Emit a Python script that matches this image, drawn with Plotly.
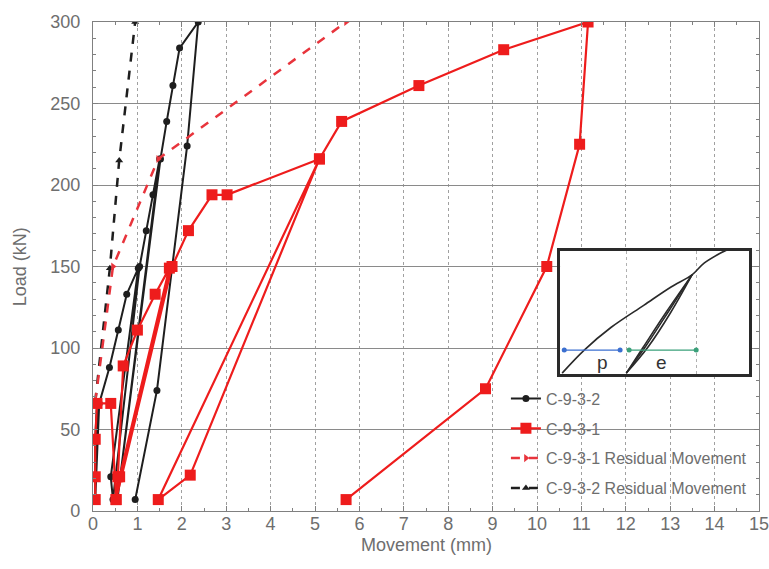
import plotly.graph_objects as go

# ---- data ----
c931_x = [0.05, 0.05, 0.05, 0.09, 0.40, 0.52, 0.56, 0.68, 1.00, 1.40, 1.72, 0.60, 0.52,
          1.78, 2.15, 2.68, 3.02, 5.10, 2.19, 1.47, 5.10, 5.60, 7.34, 9.25, 11.15, 10.96,
          10.22, 8.84, 5.70]
c931_y = [7, 21, 44, 66, 66, 7, 21, 89, 111, 133, 149, 21, 7,
          150, 172, 194, 194, 216, 22, 7, 216, 239, 261, 283, 300, 225,
          150, 75, 7]

c932_x = [0.05, 0.05, 0.05, 0.09, 0.05, 0.14, 0.37, 0.57, 0.76, 1.02, 0.40, 0.45,
          1.05, 1.20, 1.35, 1.50, 0.55, 1.52, 1.66, 1.80, 1.95, 2.37, 2.12, 1.44, 0.95]
c932_y = [7, 21, 44, 66, 7, 66, 88, 111, 133, 149, 21, 7,
          150, 172, 194, 216, 7, 216, 239, 261, 284, 300, 224, 74, 7]

res931_x = [0.05, 0.45, 1.47, 5.70]
res931_y = [67, 150, 216, 300]

res932_x = [0.05, 0.38, 0.59, 0.95]
res932_y = [67, 149, 215, 300]

x_ticks = list(range(0, 16))
y_ticks = [0, 50, 100, 150, 200, 250, 300]

# inset schematic (own unit-less axes 0..10)
inset_load_x = [0.1, 1.27, 2.7, 4.44, 5.87, 6.98, 7.62, 8.52, 9.3]
inset_load_y = [0.08, 1.95, 3.8, 5.6, 7.07, 8.05, 9.0, 9.84, 10.4]
inset_unload_x = [6.98, 5.6, 4.4, 3.5]
inset_unload_y = [8.05, 5.0, 2.2, 0.08]
inset_reload_x = [3.5, 4.65, 5.85, 6.98]
inset_reload_y = [0.08, 2.2, 5.0, 8.05]
inset_reload2_x = [3.5, 4.5, 5.7, 6.98]
inset_reload2_y = [0.08, 2.2, 5.0, 8.05]
p_x = [0.21, 3.17]
e_x = [3.65, 7.2]
pe_y = [1.95, 1.95]

FONT = "Liberation Sans, Arial, sans-serif"
GRAY_TXT = "#6e6e6e"
RED = "#ee1c1c"
BLACK = "#1e1e1e"

fig = go.Figure()

fig.add_trace(go.Scatter(
    x=c932_x, y=c932_y, name="C-9-3-2", mode="lines+markers", legendgroup="a",
    line=dict(color=BLACK, width=2), marker=dict(symbol="circle", size=7, color=BLACK),
    legendrank=1))
fig.add_trace(go.Scatter(
    x=res932_x, y=res932_y, name="C-9-3-2 Residual Movement", mode="lines+markers",
    legendgroup="d",
    line=dict(color=BLACK, width=2.5, dash="dash"),
    marker=dict(symbol="triangle-up", size=7, color=BLACK), legendrank=4))
fig.add_trace(go.Scatter(
    x=res931_x, y=res931_y, name="C-9-3-1 Residual Movement", mode="lines+markers",
    legendgroup="c",
    line=dict(color="#e8343c", width=2.5, dash="dash"),
    marker=dict(symbol="triangle-right", size=7, color="#e8343c"), legendrank=3))
fig.add_trace(go.Scatter(
    x=c931_x, y=c931_y, name="C-9-3-1", mode="lines+markers", legendgroup="b",
    line=dict(color=RED, width=2.2), marker=dict(symbol="square", size=11, color=RED),
    legendrank=2))

# inset traces
inset_line = dict(color="#2a2a2a", width=1.6, shape="spline")
for xs, ys in [(inset_load_x, inset_load_y), (inset_unload_x, inset_unload_y),
               (inset_reload_x, inset_reload_y), (inset_reload2_x, inset_reload2_y)]:
    fig.add_trace(go.Scatter(x=xs, y=ys, xaxis="x2", yaxis="y2", mode="lines",
                             line=inset_line, showlegend=False, hoverinfo="skip"))
fig.add_trace(go.Scatter(x=p_x, y=pe_y, xaxis="x2", yaxis="y2", mode="lines+markers",
                         line=dict(color="#3b6fd0", width=1.2),
                         marker=dict(size=5, color="#3b6fd0"), showlegend=False))
fig.add_trace(go.Scatter(x=e_x, y=pe_y, xaxis="x2", yaxis="y2", mode="lines+markers",
                         line=dict(color="#3aa07a", width=1.2),
                         marker=dict(size=5, color="#3aa07a"), showlegend=False))

fig.add_shape(type="rect", xref="x2", yref="y2", x0=0, x1=10, y0=0, y1=10,
              fillcolor="white", line=dict(width=0), layer="below")

fig.add_annotation(x=2.22, y=0.9, xref="x2", yref="y2", text="p", showarrow=False,
                   font=dict(family=FONT, size=19, color="#333"))
fig.add_annotation(x=5.34, y=0.9, xref="x2", yref="y2", text="e", showarrow=False,
                   font=dict(family=FONT, size=19, color="#333"))

# axis titles
fig.add_annotation(x=0.5, y=-0.0695, xref="paper", yref="paper", text="Movement (mm)",
                   showarrow=False, xanchor="center", yanchor="middle",
                   font=dict(family=FONT, size=18, color=GRAY_TXT))
fig.add_annotation(x=-0.11, y=0.5, xref="paper", yref="paper", text="Load (kN)",
                   showarrow=False, xanchor="center", yanchor="middle", textangle=-90,
                   font=dict(family=FONT, size=18, color=GRAY_TXT))

fig.update_layout(
    width=769, height=569,
    margin=dict(l=93, r=0, t=22, b=58),
    paper_bgcolor="white", plot_bgcolor="white",
    font=dict(family=FONT, color=GRAY_TXT),
    showlegend=True,
    legend=dict(x=0.62, y=0.2646, xanchor="left", yanchor="top",
                bgcolor="rgba(0,0,0,0)", borderwidth=0,
                font=dict(family=FONT, size=16, color=GRAY_TXT),
                tracegroupgap=6),
    xaxis=dict(range=[0, 15], tickvals=x_ticks, ticktext=[str(v) for v in x_ticks],
               showgrid=True, gridcolor="#a0a0a0", griddash="dot", gridwidth=1,
               zeroline=False, showline=True, linecolor="#808080", linewidth=1.2,
               mirror="allticks", ticks="inside", ticklen=5, tickcolor="#808080",
               minor=dict(dtick=0.5, ticks="inside", ticklen=3, tickcolor="#808080", showgrid=False),
               tickfont=dict(family=FONT, size=18, color=GRAY_TXT),
               ticklabelstandoff=-4, ticklabeloverflow="allow"),
    yaxis=dict(range=[0, 300], tickvals=y_ticks,
               showgrid=True, gridcolor="#8a8a8a", gridwidth=1,
               zeroline=False, showline=True, linecolor="#808080", linewidth=1.2,
               mirror="allticks", ticks="inside", ticklen=5, tickcolor="#808080",
               minor=dict(dtick=10, ticks="inside", ticklen=3, tickcolor="#808080", showgrid=False),
               tickfont=dict(family=FONT, size=18, color=GRAY_TXT),
               ticklabelstandoff=8, ticklabeloverflow="allow"),
    xaxis2=dict(domain=[0.7016, 0.985], anchor="y2", range=[0, 10],
                tickvals=[3.5, 7.2], showticklabels=False, ticks="",
                showgrid=True, gridcolor="#b0b0b0", griddash="dot",
                zeroline=False, showline=True, linecolor="#2a2a2a", linewidth=2.5, mirror=True),
    yaxis2=dict(domain=[0.280, 0.532], anchor="x2", range=[0, 10],
                showticklabels=False, ticks="", showgrid=False,
                zeroline=False, showline=True, linecolor="#2a2a2a", linewidth=2.5, mirror=True),
)

# remove the default 8px page margin so the 769x569 figure fills the window exactly
fig.write_html("out.html", config={"displayModeBar": False},
               post_script="document.body.style.margin='0';document.body.style.overflow='hidden';")
